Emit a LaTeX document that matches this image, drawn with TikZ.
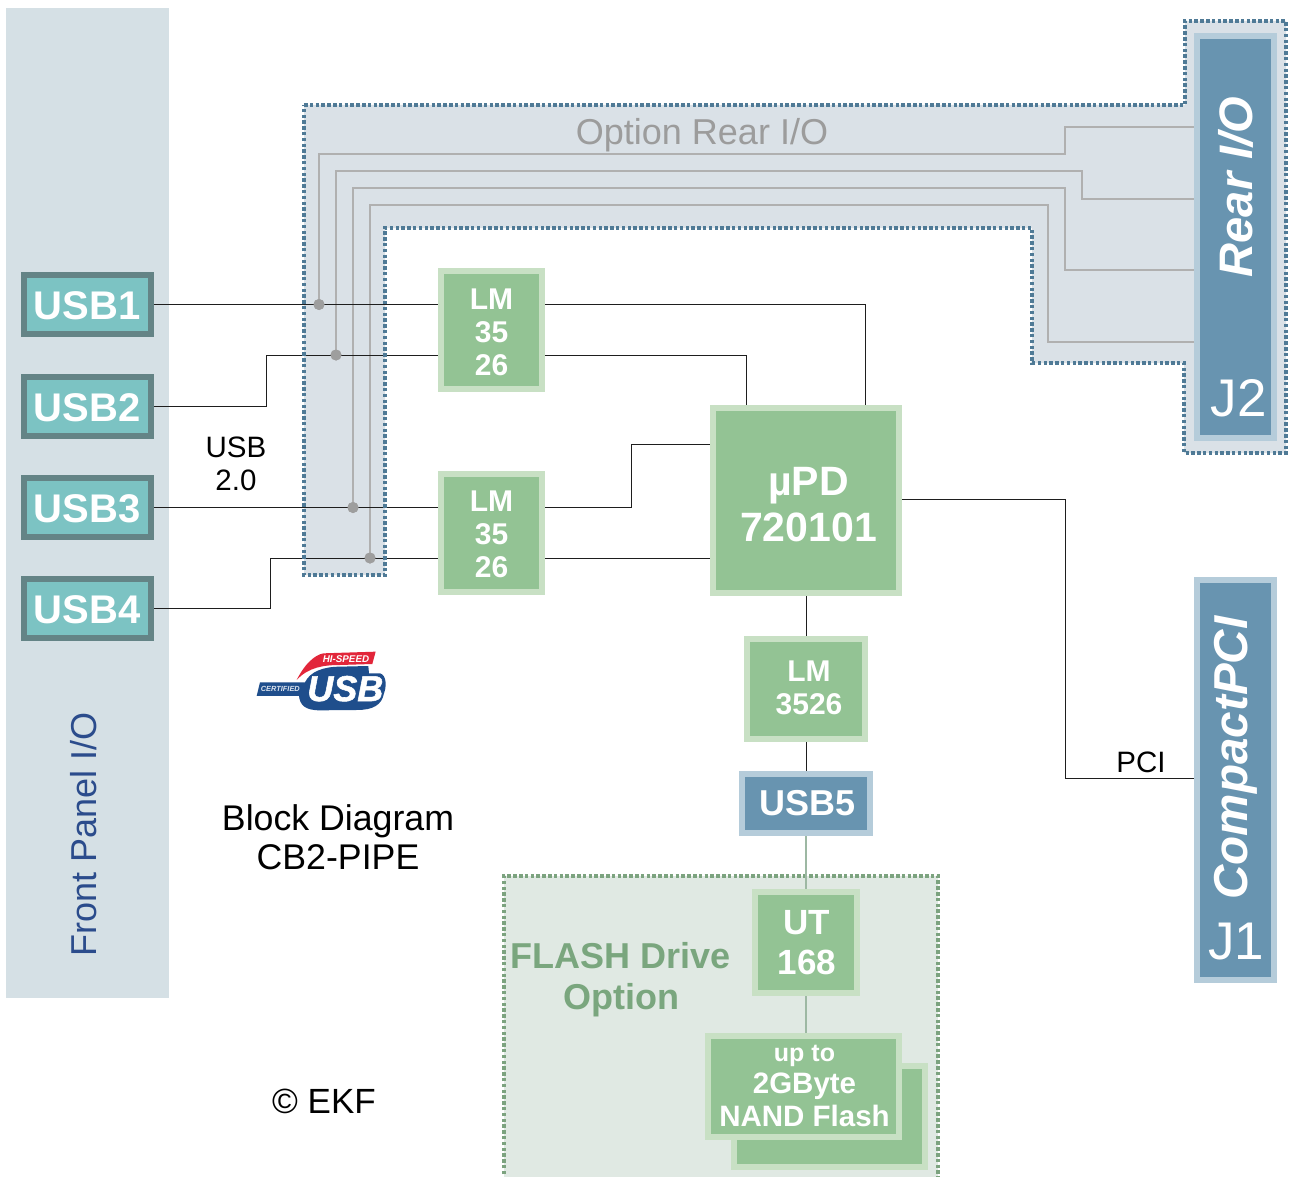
\documentclass[tikz,border=0pt]{standalone}
\usepackage{fontspec}
\setmainfont{Liberation Sans}
\newfontface\logofont{Liberation Sans Bold Italic}[FakeBold=1.5]
\usetikzlibrary{calc}
\definecolor{panel}{HTML}{D5E0E5}
\definecolor{optfill}{HTML}{DAE1E7}
\definecolor{optdots}{HTML}{4F7A96}
\definecolor{usbout}{HTML}{648486}
\definecolor{usbin}{HTML}{7CC3C3}
\definecolor{grnout}{HTML}{C8E0C4}
\definecolor{grnin}{HTML}{93C394}
\definecolor{bluout}{HTML}{B5CCDA}
\definecolor{bluin}{HTML}{6894B0}
\definecolor{flashfill}{HTML}{E0E9E3}
\definecolor{flashdots}{HTML}{7CA37F}
\definecolor{flashtxt}{HTML}{7AA67E}
\definecolor{wire}{HTML}{1E1E1E}
\definecolor{optwire}{HTML}{B0B0B0}
\definecolor{opttxt}{HTML}{9C9C9C}
\definecolor{flashwire}{HTML}{9DB8A3}
\definecolor{navy}{HTML}{2B4C8C}
\definecolor{logoblue}{HTML}{1F4E8C}
\definecolor{logored}{HTML}{E2263A}
\pgfdeclarelayer{bg}
\pgfsetlayers{bg,main}
\tikzset{
  box/.style n args={4}{draw=#1,fill=#2,line width=6pt,inner sep=0pt,
     minimum width=#3 pt,minimum height=#4 pt},
  usbbox/.style={box={usbout}{usbin}{127}{59}},
  lmbox/.style={box={grnout}{grnin}{101}{118}},
  conn/.style={box={bluout}{bluin}{77}{#1}},
  boxtext/.style={text=white,align=center,inner sep=0pt,font=\fontsize{#1}{#1}\selectfont\bfseries},
  usbtext/.style={boxtext=40},
  lmtext/.style={text=white,align=center,inner sep=0pt,font=\fontsize{30}{33}\selectfont\bfseries},
  wirel/.style={draw=wire,line width=1pt},
  optl/.style={draw=optwire,line width=1.1pt},
  flashl/.style={draw=flashwire,line width=1.2pt},
  dotj/.style={circle,fill=optwire!90!black,inner sep=0pt,minimum size=11pt},
  dotb/.style={draw=optdots,line width=3.5pt,dash pattern=on 3.5pt off 2.3pt},
}
\begin{document}
\begin{tikzpicture}[x=1pt,y=-1pt]
\useasboundingbox (0,0) rectangle (1290,1177);
\begin{pgfonlayer}{bg}
  \fill[white] (0,0) rectangle (1290,1177);
  \fill[panel] (6,8) rectangle (169,998);
  \fill[optfill] (304,105) -- (1185,105) -- (1185,21) -- (1286,21) -- (1286,453) -- (1184,453) -- (1184,363) -- (1032,363) -- (1032,228) -- (385,228) -- (385,575) -- (304,575) -- cycle;
  \fill[flashfill] (504,876) rectangle (938,1180);
  \draw[draw=flashdots,line width=3.5pt,dash pattern=on 3.5pt off 2.3pt] (504,1180) -- (504,876) -- (938,876) -- (938,1180);
\end{pgfonlayer}

% boxes
\node[usbbox] (usb1) at (87.5,304.5) {};
\node[usbbox] (usb2) at (87.5,406) {};
\node[usbbox] (usb3) at (87.5,507.5) {};
\node[usbbox] (usb4) at (87.5,608.5) {};
\node[lmbox] (lm1) at (491.5,329.5) {};
\node[lmbox] (lm2) at (491.5,533) {};
\node[box={grnout}{grnin}{186}{185}] (upd) at (806,500.5) {};
\node[box={grnout}{grnin}{118}{100}] (lm3) at (806,689) {};
\node[box={bluout}{bluin}{128}{59}] (usb5) at (806,803.5) {};
\node[box={grnout}{grnin}{102}{101}] (ut) at (806,942.5) {};
\node[box={grnout}{grnin}{191}{101}] (nandb) at (829.5,1116.5) {};
\node[box={grnout}{grnin}{191}{101}] (nand) at (803.5,1086.5) {};
\node[conn=402] (rear) at (1235.5,237) {};
\node[conn=400] (cpci) at (1235.5,780) {};

% box texts
\node[usbtext] (usb1t) at ([yshift=-1.5pt,xshift=-0.5pt]usb1.center) {USB1};
\node[usbtext] (usb2t) at ([yshift=-1.5pt,xshift=-0.5pt]usb2.center) {USB2};
\node[usbtext] (usb3t) at ([yshift=-1.5pt,xshift=-0.5pt]usb3.center) {USB3};
\node[usbtext] (usb4t) at ([yshift=-1.5pt,xshift=-0.5pt]usb4.center) {USB4};
\node[lmtext] (lm1t) at ([yshift=-3pt]lm1.center) {LM\\35\\26};
\node[lmtext] (lm2t) at ([yshift=-1.5pt]lm2.center) {LM\\35\\26};
\node[text=white,align=center,inner sep=0pt,font=\fontsize{41}{46}\selectfont\bfseries] (updt) at ([xshift=2.5pt,yshift=-4pt]upd.center) {µPD\\720101};
\node[lmtext] (lm3t) at ([xshift=3pt,yshift=1.5pt]lm3.center) {LM\\3526};
\node[boxtext=36] (usb5t) at ([xshift=2pt]usb5.center) {USB5};
\node[text=white,align=center,inner sep=0pt,font=\fontsize{35}{40}\selectfont\bfseries] (utt) at ([xshift=1pt]ut.center) {UT\\168};
\node[text=white,align=center,inner sep=0pt,font=\fontsize{29.5}{32.5}\selectfont\bfseries] (nandt) at ([xshift=1pt,yshift=1pt]nand.center) {{\fontsize{25}{30}\selectfont up to}\\2GByte\\NAND Flash};

% labels
\node[rotate=90,text=navy,font=\fontsize{36}{40}\selectfont] (front) at (84,834.5) {Front Panel I/O};
\node[text=opttxt,font=\fontsize{36}{40}\selectfont] (optlab) at (702,135) {Option Rear I/O};
\node[rotate=90,text=white,font=\fontsize{47}{50}\selectfont\bfseries\itshape] (rearlab) at (1235.5,187) {Rear I/O};
\node[text=white,font=\fontsize{53}{56}\selectfont] (j2) at (1238.5,398.5) {J2};
\node[rotate=90,text=white,font=\fontsize{47.6}{50}\selectfont\bfseries\itshape] (cpcilab) at (1236,758) {CompactPCI};
\node[text=white,font=\fontsize{53}{56}\selectfont] (j1) at (1236,942) {J1};
\node[text=black,align=center,font=\fontsize{29.5}{33}\selectfont] (usb20) at (236,464) {USB\\2.0};
\node[text=black,font=\fontsize{29.5}{32}\selectfont] (pci) at (1141,762) {PCI};
\node[text=black,align=center,font=\fontsize{35.7}{39}\selectfont] (title) at (338,837) {Block Diagram\\CB2-PIPE};
\node[text=black,font=\fontsize{35}{38}\selectfont] (ekf) at (324,1101) {© EKF};
\node[text=flashtxt,align=center,font=\fontsize{36}{41}\selectfont\bfseries] (flash) at (621,980) {FLASH Drive\\Option};

% grey wires to the rear connector
\node[dotj] (j1a) at (319,304.5) {};
\node[dotj] (j2a) at (336,355) {};
\node[dotj] (j3a) at (353,507.5) {};
\node[dotj] (j4a) at (370,558) {};
\draw[optl] (j1a.center) -- (319,154) -- (1065,154) -- (1065,127) -- ([yshift=110pt]rear.west);
\draw[optl] (j2a.center) -- (336,171) -- (1082,171) -- (1082,199) -- ([yshift=38pt]rear.west);
\draw[optl] (j3a.center) -- (353,188) -- (1065,188) -- (1065,270) -- ([yshift=-33pt]rear.west);
\draw[optl] (j4a.center) -- (370,205) -- (1048,205) -- (1048,342) -- ([yshift=-105pt]rear.west);

% signal wires
\draw[wirel] (usb1.east) -- ([yshift=25pt]lm1.west);
\draw[wirel] (usb2.east) -- (266,406) -- (266,355) -- ([yshift=-25.5pt]lm1.west);
\draw[wirel] (usb3.east) -- ([yshift=25.5pt]lm2.west);
\draw[wirel] (usb4.east) -- (270,608.5) -- (270,558) -- ([yshift=-25pt]lm2.west);
\draw[wirel] ([yshift=25pt]lm1.east) -- (865,304.5) -- ([xshift=59pt]upd.north);
\draw[wirel] ([yshift=-25.5pt]lm1.east) -- (746,355) -- ([xshift=-60pt]upd.north);
\draw[wirel] ([yshift=25.5pt]lm2.east) -- (631,507.5) -- (631,444) -- ([yshift=56.5pt]upd.west);
\draw[wirel] ([yshift=-25pt]lm2.east) -- ([yshift=-57.5pt]upd.west);
\draw[wirel] ([yshift=1pt]upd.east) -- (1065,499.5) -- (1065,778) -- ([yshift=2pt]cpci.west);
\draw[wirel] (upd.south) -- (lm3.north);
\draw[wirel] (lm3.south) -- (usb5.north);
\draw[flashl] (usb5.south) -- (ut.north);
\draw[flashl] (ut.south) -- (ut.south |- nand.north);

% dotted outline of the rear I/O option
\draw[dotb] (304,105) -- (1185,105) -- (1185,21) -- (1286,21) -- (1286,453) -- (1184,453) -- (1184,363) -- (1032,363) -- (1032,228) -- (385,228) -- (385,575) -- (304,575) -- cycle;

% junction dots on top
\node[dotj] at (j1a) {};
\node[dotj] at (j2a) {};
\node[dotj] at (j3a) {};
\node[dotj] at (j4a) {};

% USB logo
\begin{scope}[shift={(230,630)},x=0.3333pt,y=-0.3333pt]
  \fill[logored] (200,150) .. controls (225,100) and (255,75) .. (280,70) -- (437,65) -- (427,102) -- (330,105) .. controls (280,105) and (235,112) .. (200,150) -- cycle;
  \fill[logoblue] (90,157) -- (225,157) .. controls (240,125) and (280,110) .. (330,110) -- (415,108) -- (417,130) -- (450,130) .. controls (470,135) and (470,170) .. (462,190) .. controls (455,225) and (430,240) .. (380,240) -- (270,241) .. controls (225,241) and (210,225) .. (207,198) -- (80,198) -- cycle;
  \node[text=white,inner sep=0pt,font=\fontsize{36}{36}\selectfont\logofont] (logousb) at (346,176) {USB};
  \node[text=white,inner sep=0pt,font=\fontsize{9.8}{10}\selectfont\bfseries\itshape] (logohi) at (348,87) {HI-SPEED};
  \node[text=white!85!logoblue,inner sep=0pt,font=\fontsize{7.4}{8}\selectfont\bfseries\itshape] (logocert) at (151,178) {CERTIFIED};
  \node[text=logoblue,font=\fontsize{4}{4}\selectfont\bfseries,inner sep=0pt] (logotm) at (388,234) {TM};
\end{scope}
\end{tikzpicture}
\end{document}
